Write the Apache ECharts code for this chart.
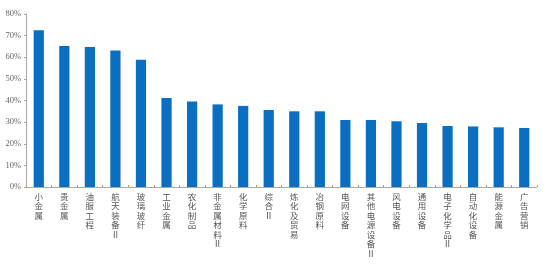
<!DOCTYPE html>
<html>
<head>
<meta charset="utf-8">
<script src="https://cdn.jsdelivr.net/npm/echarts@6/dist/echarts.min.js"></script>
<style>
html,body{margin:0;padding:0;background:#fff;}
#chart{width:554px;height:265px;}
</style>
</head>
<body>
<div id="chart"></div>
<script>
var categories = ["小金属","贵金属","油服工程","航天装备Ⅱ","玻璃玻纤","工业金属","农化制品","非金属材料Ⅱ","化学原料","综合Ⅱ","炼化及贸易","冶钢原料","电网设备","其他电源设备Ⅱ","风电设备","通用设备","电子化学品Ⅱ","自动化设备","能源金属","广告营销"];
var values = [72.5, 65.2, 64.7, 63.1, 58.9, 41.2, 39.5, 38.2, 37.5, 35.6, 35.0, 35.0, 31.0, 31.0, 30.4, 29.6, 28.2, 28.0, 27.6, 27.3];
var yTicks = [0, 10, 20, 30, 40, 50, 60, 70, 80];

var chart = echarts.init(document.getElementById('chart'));
chart.setOption({
  animation: false,
  grid: {left: 26, right: 17, top: 14, bottom: 78},
  xAxis: {
    type: 'category',
    data: categories,
    axisLine: {lineStyle: {color: '#a8a8a8', width: 1}},
    axisTick: {show: true, inside: true, length: 2, lineStyle: {color: '#c89060'}},
    axisLabel: {
      interval: 0,
      margin: 5,
      color: '#555',
      fontSize: 8.5,
      lineHeight: 9.5,
      fontFamily: 'Noto Sans CJK SC',
      formatter: function (v) { return v.split('').join('\n'); },
      verticalAlign: 'top'
    }
  },
  yAxis: {
    type: 'value',
    min: yTicks[0],
    max: yTicks[yTicks.length - 1],
    interval: 10,
    splitLine: {show: false},
    axisLine: {show: true, lineStyle: {color: '#a8a8a8', width: 1}},
    axisTick: {show: true, length: 2, lineStyle: {color: '#a8a8a8'}},
    axisLabel: {
      margin: 5,
      color: '#666',
      fontSize: 8.5,
      fontFamily: 'Liberation Serif',
      formatter: '{value}%'
    }
  },
  series: [{
    type: 'bar',
    data: values,
    barWidth: '40%',
    itemStyle: {color: '#0a6fc1'}
  }]
});
</script>
</body>
</html>
